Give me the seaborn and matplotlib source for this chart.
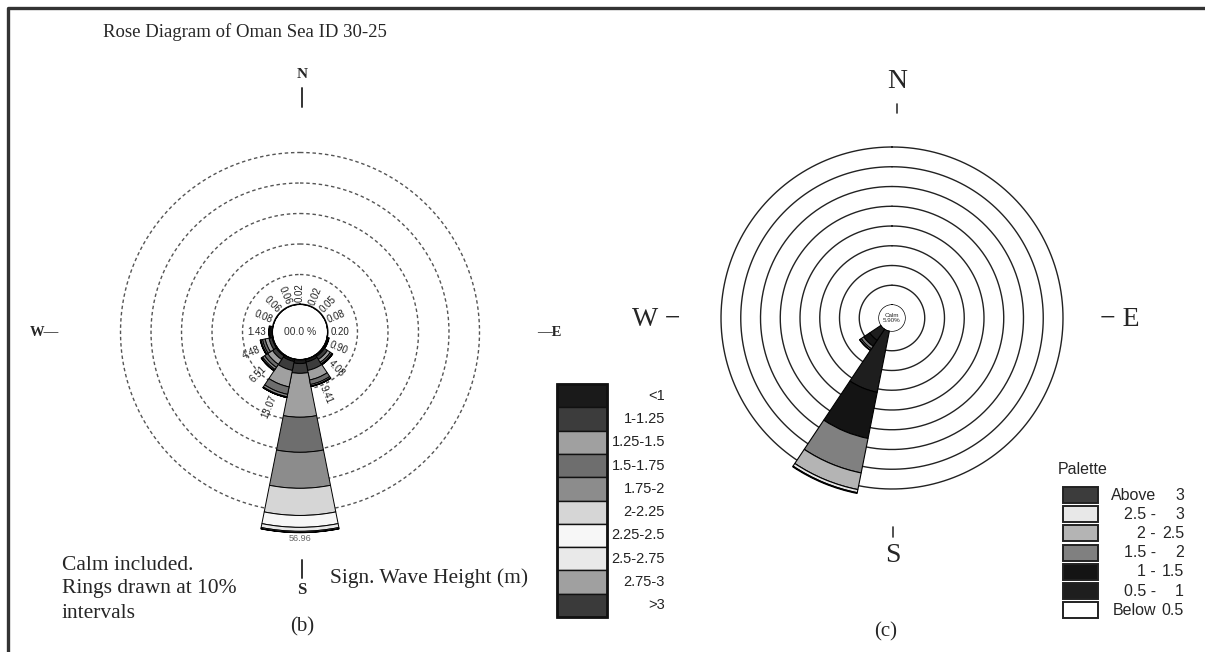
import numpy as np
import matplotlib
matplotlib.use("Agg")
import matplotlib.pyplot as plt
import seaborn as sns
from matplotlib.patches import Rectangle

sns.set_theme(style="white")
plt.rcParams['font.family'] = ['Liberation Serif', 'DejaVu Serif']

# ---------------------------------------------------------------- data
directions = ["N", "NNE", "NE", "ENE", "E", "ESE", "SE", "SSE",
              "S", "SSW", "SW", "WSW", "W", "WNW", "NW", "NNW"]

# Panel (b): frequency (%) per direction for each significant wave height class
hs_labels = ["<1", "1-1.25", "1.25-1.5", "1.5-1.75", "1.75-2",
             "2-2.25", "2.25-2.5", "2.5-2.75", "2.75-3", ">3"]
hs_colors = ["#1a1a1a", "#3c3c3c", "#a0a0a0", "#6e6e6e", "#8c8c8c",
             "#d6d6d6", "#f7f7f7", "#e9e9e9", "#a0a0a0", "#3a3a3a"]
f_lt1    = [0.02, 0.02, 0.05, 0.08, 0.15, 0.50, 0.80, 1.20, 1.50, 1.00, 0.60, 0.50, 0.40, 0.05, 0.04, 0.06]
f_1_125  = [0, 0, 0, 0, 0.05, 0.30, 1.20, 2.80, 3.20, 3.00, 1.40, 1.00, 0.50, 0.03, 0.02, 0]
f_125_15 = [0, 0, 0, 0, 0, 0.10, 1.10, 3.20, 14.40, 5.50, 1.90, 1.30, 0.35, 0, 0, 0]
f_15_175 = [0, 0, 0, 0, 0, 0, 0.60, 1.50, 11.50, 2.50, 1.20, 0.90, 0.18, 0, 0, 0]
f_175_2  = [0, 0, 0, 0, 0, 0, 0.25, 0.50, 11.80, 0.80, 0.80, 0.50, 0, 0, 0, 0]
f_2_225  = [0, 0, 0, 0, 0, 0, 0.10, 0.15, 8.90, 0.20, 0.40, 0.20, 0, 0, 0, 0]
f_225_25 = [0, 0, 0, 0, 0, 0, 0.03, 0.06, 3.90, 0.05, 0.11, 0.08, 0, 0, 0, 0]
f_25_275 = [0, 0, 0, 0, 0, 0, 0, 0, 1.30, 0.02, 0.10, 0, 0, 0, 0, 0]
f_275_3  = [0, 0, 0, 0, 0, 0, 0, 0, 0.40, 0, 0, 0, 0, 0, 0, 0]
f_gt3    = [0, 0, 0, 0, 0, 0, 0, 0, 0.06, 0, 0, 0, 0, 0, 0, 0]
calm_b = 0.0

# Panel (c): frequency (%) per direction for each palette class
pal_labels_l = ["Above", "2.5 -", "2 -", "1.5 -", "1 -", "0.5 -", "Below"]
pal_labels_r = ["3", "3", "2.5", "2", "1.5", "1", "0.5"]
pal_colors = ["#3c3c3c", "#e8e8e8", "#b4b4b4", "#808080", "#141414", "#1e1e1e", "#ffffff"]
c_below05 = [0] * 16
c_05_1  = [0, 0, 0, 0, 0, 0, 0, 0, 0, 15.9, 3.5, 0, 0, 0, 0, 0]
c_1_15  = [0, 0, 0, 0, 0, 0, 0, 0, 0, 11.9, 1.8, 0, 0, 0, 0, 0]
c_15_2  = [0, 0, 0, 0, 0, 0, 0, 0, 0, 8.9, 0.8, 0, 0, 0, 0, 0]
c_2_25  = [0, 0, 0, 0, 0, 0, 0, 0, 0, 4.3, 0.4, 0, 0, 0, 0, 0]
c_25_3  = [0, 0, 0, 0, 0, 0, 0, 0, 0, 0.8, 0.1, 0, 0, 0, 0, 0]
c_gt3   = [0, 0, 0, 0, 0, 0, 0, 0, 0, 0.2, 0, 0, 0, 0, 0, 0]
calm_c = 5.90

# ---------------------------------------------------------------- figure
W, H = 1205, 652
fig = plt.figure(figsize=(W / 100, H / 100), dpi=100)
fig.patch.set_facecolor("white")

# pixel-space overlay for annotations
ov = fig.add_axes([0, 0, 1, 1], zorder=0)
ov.set_xlim(0, W)
ov.set_ylim(H, 0)
ov.axis("off")

SERIF = ['Liberation Serif', 'DejaVu Serif']
SANS = ['Liberation Sans', 'DejaVu Sans']

# frame
ov.plot([8, 8, W + 5], [H + 5, 8, 8], color="#333333", lw=2.4, solid_capstyle="butt")

theta = np.deg2rad(np.arange(16) * 22.5)
width = np.deg2rad(22.5)


def rose_axes(cx, cy, px_per_unit, hole_px, rmax):
    h = hole_px / px_per_unit
    R = px_per_unit * (rmax + h)
    ax = fig.add_axes([(cx - R) / W, (H - cy - R) / H, 2 * R / W, 2 * R / H],
                      projection="polar", zorder=2)
    ax.set_theta_zero_location("N")
    ax.set_theta_direction(-1)
    ax.set_ylim(0, rmax)
    ax.set_rorigin(-h)
    ax.axis("off")
    return ax


def stack_bars(ax, layers, colors, lw):
    bottom = np.zeros(16)
    for vals, col in zip(layers, colors):
        vals = np.asarray(vals, dtype=float)
        m = vals > 0
        ax.bar(theta[m], vals[m], width=width, bottom=bottom[m], color=col,
               edgecolor="black", linewidth=lw, align="center", zorder=3)
        bottom += vals
    return bottom


ring_t = np.linspace(0, 2 * np.pi, 400)

# ---------------------------------------------------------------- panel (b)
cxb, cyb, sb, holeb = 300, 332, 3.05, 27
axb = rose_axes(cxb, cyb, sb, holeb, 62)
for r in [10, 20, 30, 40, 50]:
    axb.plot(ring_t, np.full_like(ring_t, r), color="#555555", lw=1.0,
             ls=(0, (2.5, 2)), zorder=1)
layers_b = [f_lt1, f_1_125, f_125_15, f_15_175, f_175_2,
            f_2_225, f_225_25, f_25_275, f_275_3, f_gt3]
tot_b = stack_bars(axb, layers_b, hs_colors, 0.7)
axb.plot(ring_t, np.zeros_like(ring_t), color="black", lw=2.2, zorder=4)
axb.text(0.5, 0.5, f"{calm_b:04.1f} %", transform=axb.transAxes, ha="center",
         va="center", fontsize=7.5, family=SANS, color="#333333")

for th, tot in zip(theta, tot_b):
    lab = f"{tot:.2f}"
    deg = np.rad2deg(th)
    if abs(deg - 180) < 1:
        axb.text(th, tot + 3.2 / sb * 1.0 + 1.0, lab, ha="center", va="center",
                 fontsize=6.5, family=SANS, color="#666666")
        continue
    rot = 90 - deg
    while rot <= -90:
        rot += 180
    while rot > 90:
        rot -= 180
    half = len(lab) * 2.3 + 3
    axb.text(th, tot + half / sb, lab, ha="center", va="center", rotation=rot,
             rotation_mode="anchor", fontsize=7, family=SANS, color="#222222")

# compass labels (b)
ov.text(302, 75, "N", ha="center", va="center", fontsize=11, fontweight="bold", family=SERIF)
ov.plot([302, 302], [88, 107], color="#333333", lw=1.4)
ov.text(302, 590, "S", ha="center", va="center", fontsize=12, fontweight="bold", family=SERIF)
ov.plot([302, 302], [560, 578], color="#333333", lw=1.4)
ov.text(30, 332, "W\u2014", ha="left", va="center", fontsize=10.5, fontweight="bold", family=SERIF)
ov.text(537, 332, "\u2014E", ha="left", va="center", fontsize=10.5, fontweight="bold", family=SERIF)

# title and notes
ov.text(103, 32, "Rose Diagram of Oman Sea ID 30-25", ha="left", va="center",
        fontsize=13.5, family=SERIF)
for i, line in enumerate(["Calm included.", "Rings drawn at 10%", "intervals"]):
    ov.text(62, 565 + i * 24, line, ha="left", va="center", fontsize=15.5, family=SERIF)
ov.text(330, 578, "Sign. Wave Height (m)", ha="left", va="center", fontsize=15.5, family=SERIF)
ov.text(302, 627, "(b)", ha="center", va="center", fontsize=15, family=SERIF)

# legend (b)
lx0, lx1, ly0, lrow = 557, 607, 384, 23.3
for i, (lab, col) in enumerate(zip(hs_labels, hs_colors)):
    y = ly0 + i * lrow
    ov.add_patch(Rectangle((lx0, y), lx1 - lx0, lrow, facecolor=col,
                           edgecolor="#111111", lw=1.0))
    ov.text(665, y + lrow / 2, lab, ha="right", va="center", fontsize=10.5,
            family=SANS, color="#222222")
ov.add_patch(Rectangle((lx0, ly0), lx1 - lx0, lrow * len(hs_labels), fill=False,
                       edgecolor="#111111", lw=2.0))

# ---------------------------------------------------------------- panel (c)
cxc, cyc, sc, holec = 892, 318, 3.95, 13
axc = rose_axes(cxc, cyc, sc, holec, 45)
for r in np.arange(5, 45, 5):
    axc.plot(ring_t, np.full_like(ring_t, r), color="#222222", lw=1.0, zorder=1)
layers_c = [c_below05, c_05_1, c_1_15, c_15_2, c_2_25, c_25_3, c_gt3]
colors_c = pal_colors[::-1]
stack_bars(axc, layers_c, colors_c, 0.8)
axc.plot(ring_t, np.zeros_like(ring_t), color="black", lw=1.0, zorder=4)
axc.text(0.5, 0.5, f"Calm\n{calm_c:.2f}%", transform=axc.transAxes, ha="center",
         va="center", fontsize=4.5, family=SANS, linespacing=1.0)

ov.text(897, 82, "N", ha="center", va="center", fontsize=20, family=SERIF)
ov.plot([897, 897], [104, 113], color="#333333", lw=1.2)
ov.text(893, 556, "S", ha="center", va="center", fontsize=20, family=SERIF)
ov.plot([893, 893], [527, 537], color="#333333", lw=1.2)
ov.text(632, 320, "W \u2212", ha="left", va="center", fontsize=20, family=SERIF)
ov.text(1100, 320, "\u2212 E", ha="left", va="center", fontsize=20, family=SERIF)
ov.text(886, 632, "(c)", ha="center", va="center", fontsize=15, family=SERIF)

# legend (c)
ov.text(1058, 470, "Palette", ha="left", va="center", fontsize=11.5, family=SANS)
px0, pw, py0, pitch, ph = 1063, 35, 487, 19.2, 16
for i, (ll, rl, col) in enumerate(zip(pal_labels_l, pal_labels_r, pal_colors)):
    y = py0 + i * pitch
    ov.add_patch(Rectangle((px0, y), pw, ph, facecolor=col, edgecolor="#222222", lw=1.4))
    ov.text(1156, y + ph / 2, ll, ha="right", va="center", fontsize=11.5, family=SANS)
    ov.text(1184, y + ph / 2, rl, ha="right", va="center", fontsize=11.5, family=SANS)

fig.savefig("out.png", dpi=100, facecolor="white")
